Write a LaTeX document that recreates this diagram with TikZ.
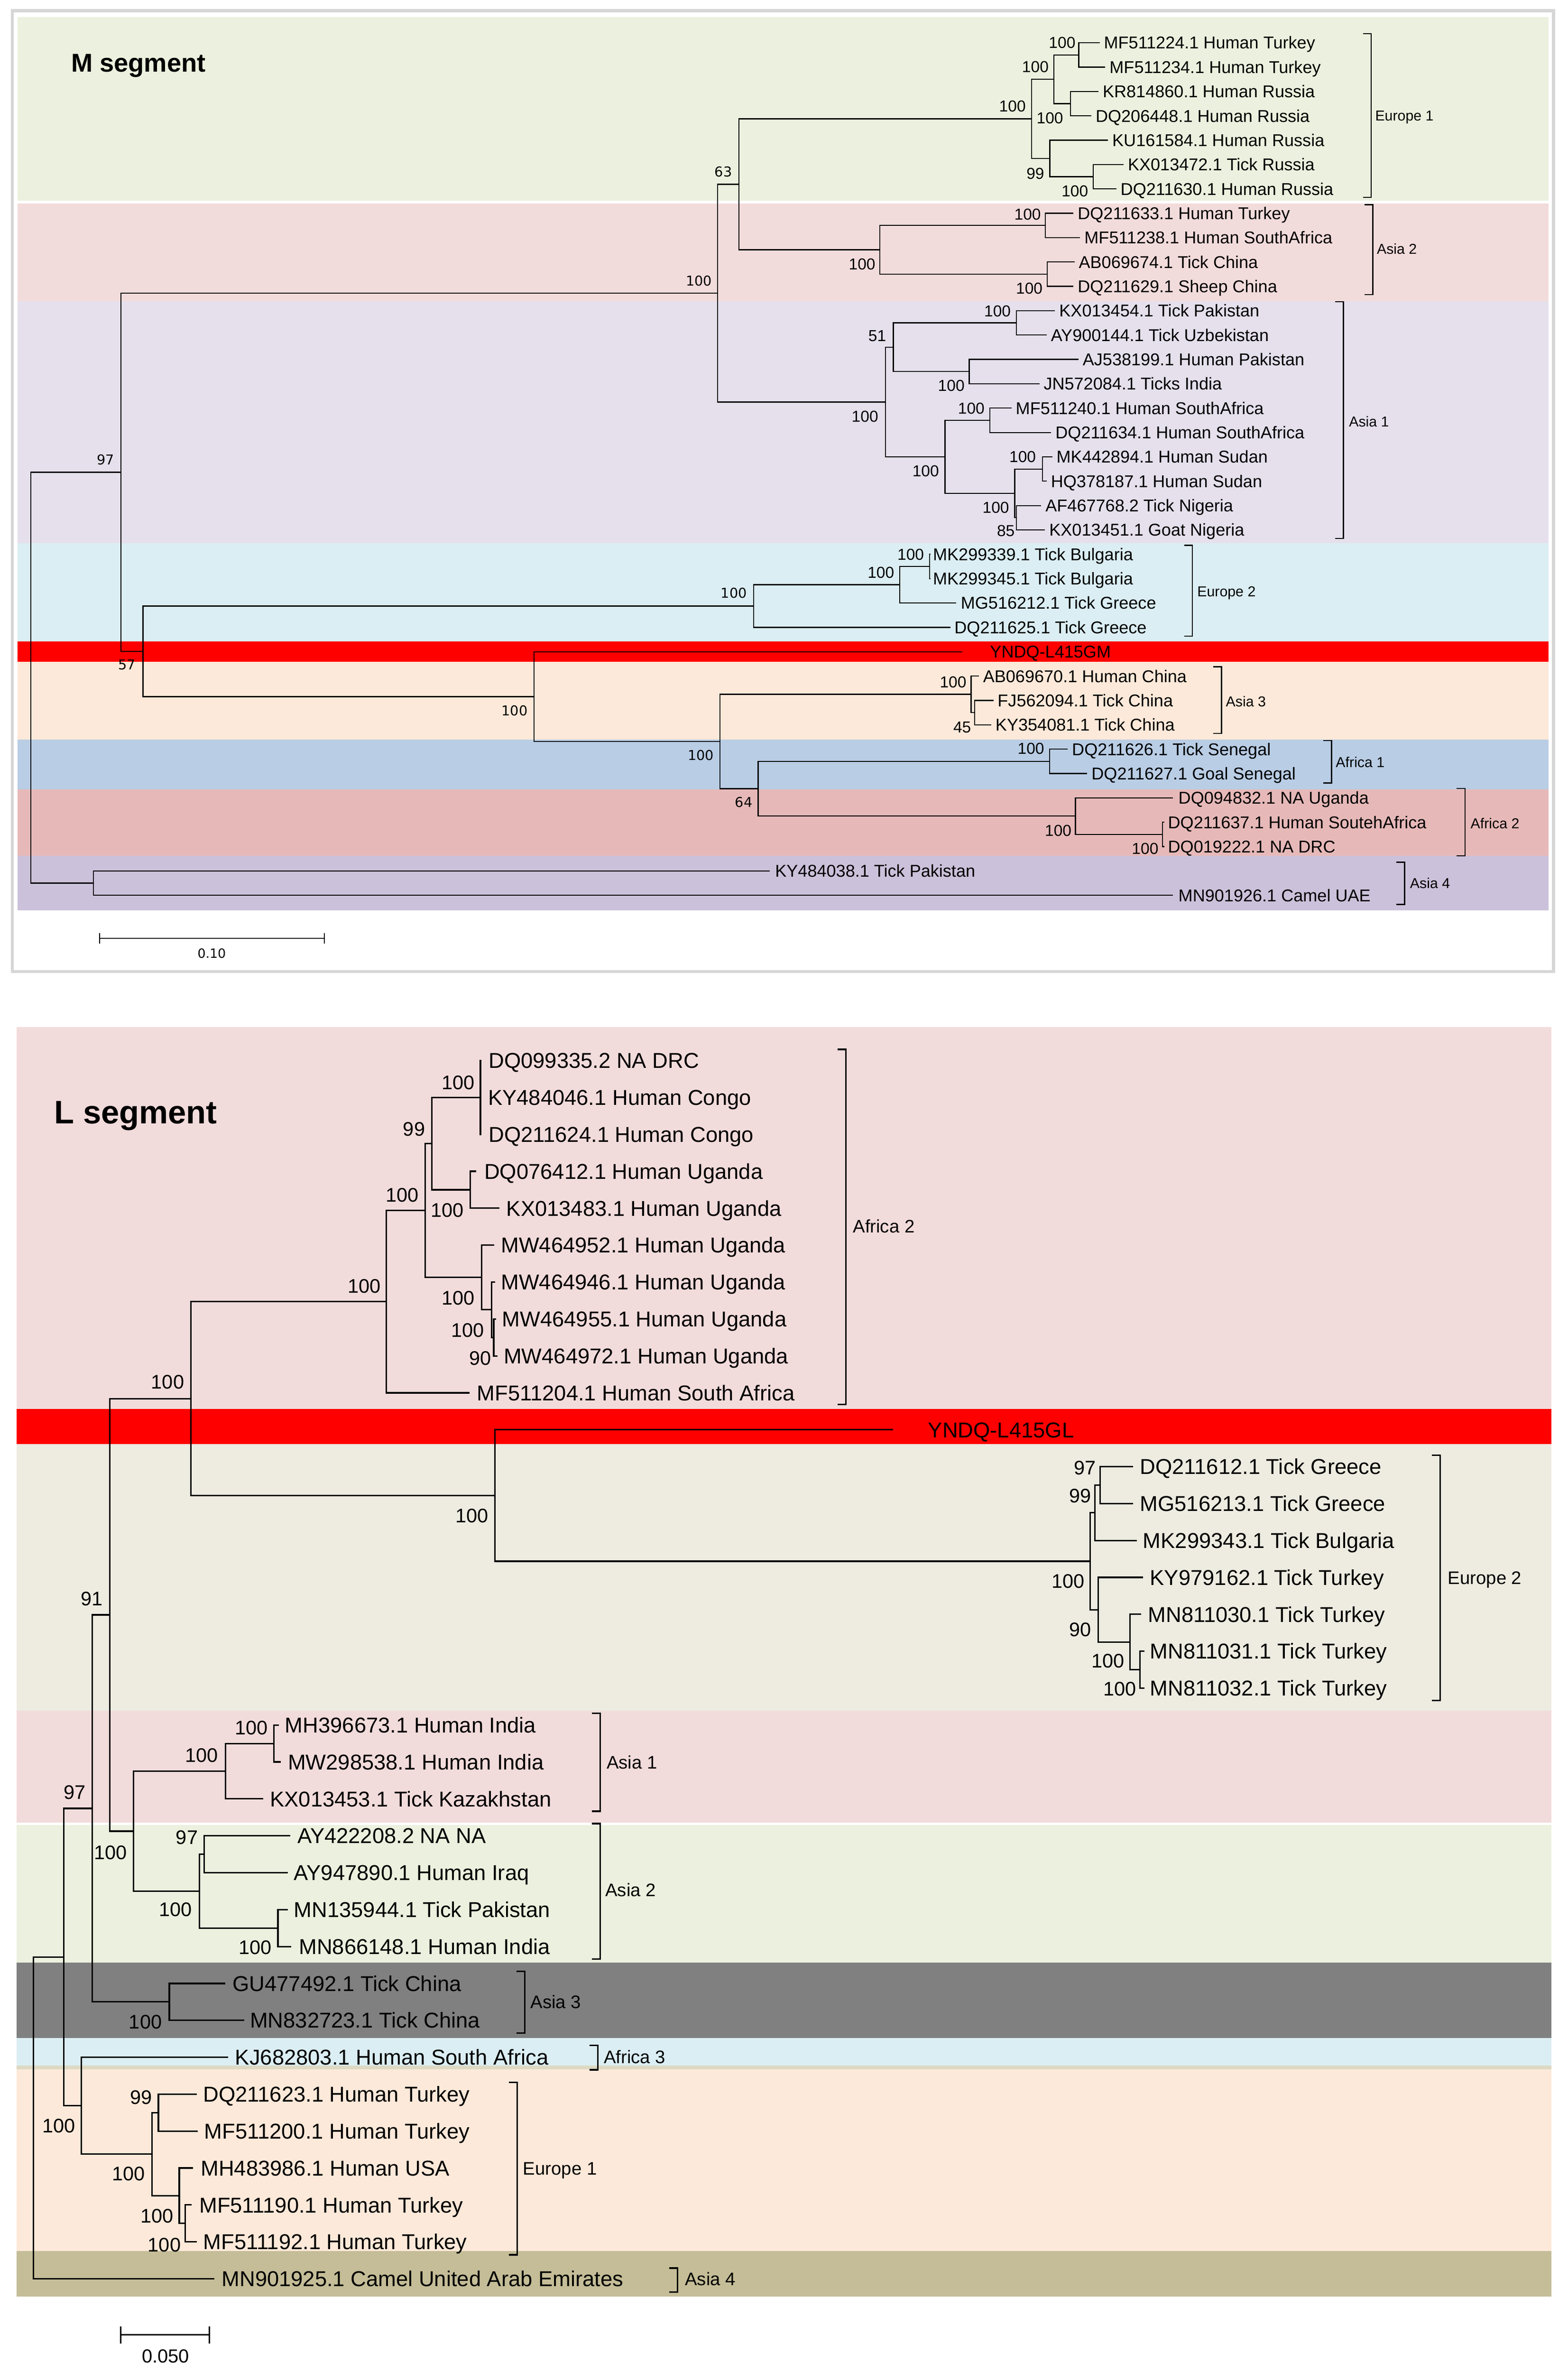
\documentclass[tikz,border=0pt]{standalone}
\usepackage{fontspec}
\setmainfont{Liberation Sans}
\newfontfamily\dejavu{DejaVu Sans}
\newcommand{\fs}[1]{\fontsize{#1}{#1}\selectfont}
\definecolor{mEuOne}{HTML}{EBF1DE}
\definecolor{mAsTwo}{HTML}{F2DCDB}
\definecolor{mAsOne}{HTML}{E5E0EC}
\definecolor{mEuTwo}{HTML}{DBEEF3}
\definecolor{mAsThree}{HTML}{FDE9D9}
\definecolor{mAfOne}{HTML}{B9CDE5}
\definecolor{mAfTwo}{HTML}{E6B9B8}
\definecolor{mAsFour}{HTML}{CCC1DA}
\definecolor{lAfTwo}{HTML}{F2DCDB}
\definecolor{lEuTwo}{HTML}{EEECE1}
\definecolor{lAsOne}{HTML}{F2DCDB}
\definecolor{lAsTwo}{HTML}{EBF1DE}
\definecolor{lAsThree}{HTML}{808080}
\definecolor{lAfThree}{HTML}{DBEEF3}
\definecolor{lSep}{HTML}{DDD9C3}
\definecolor{lEuOne}{HTML}{FDE9D9}
\definecolor{lAsFour}{HTML}{C4BD97}
\definecolor{frameGray}{HTML}{D6D6D6}
\newcommand{\mleaf}[5]{\coordinate (#1) at (#2,#3); \node[leafM] (#1t) at (#4,#3) {#5};}
\newcommand{\lleaf}[5]{\coordinate (#1) at (#2,#3); \node[leafL] (#1t) at (#4,#3) {#5};}
\begin{document}
\begin{tikzpicture}[x=1pt,y=-1pt,
  every node/.style={inner sep=0pt, outer sep=0pt},
  treeM/.style={line width=0.7pt, black},
  treeL/.style={line width=1.0pt, black},
  brM/.style={line width=0.8pt, black},
  brL/.style={line width=1.0pt, black},
  leafM/.style={anchor=base west, font=\fs{11.3}, yshift=-4.05pt},
  leafL/.style={anchor=base west, font=\fs{14.2}, yshift=-5.1pt},
  bsM/.style={font=\fs{10.5}},
  bsMv/.style={font={\dejavu\fs{9}}},
  bsL/.style={font=\fs{13}},
  cladeM/.style={anchor=base west, font=\fs{9.5}, yshift=-3.4pt},
  cladeL/.style={anchor=base west, font=\fs{12}, yshift=-4.3pt}
]
\useasboundingbox (0,0) rectangle (1035,1565.8);
\fill[white] (0,0) rectangle (1035,1565.8);

% ================= M segment bands =================
\fill[mEuOne] (11.5,11.2) rectangle (1022.4,132.6);
\fill[mAsTwo] (11.5,134.2) rectangle (1022.4,199);
\fill[mAsOne] (11.5,199) rectangle (1022.4,358.5);
\fill[mEuTwo] (11.5,358.5) rectangle (1022.4,423.3);
\fill[red] (11.5,423.3) rectangle (1022.4,436.9);
\fill[mAsThree] (11.5,436.9) rectangle (1022.4,488.1);
\fill[mAfOne] (11.5,488.1) rectangle (1022.4,521.2);
\fill[mAfTwo] (11.5,521.2) rectangle (1022.4,565);
\fill[mAsFour] (11.5,565) rectangle (1022.4,600.9);
\draw[frameGray, line width=2pt] (8.2,7) rectangle (1025.7,641.3);

\node[anchor=base west, font={\bfseries\fs{17}}] (titleM) at (47,47.5) {M segment};

% M leaves
\mleaf{m0}{726.1}{28.2}{728.9}{MF511224.1 Human Turkey}
\mleaf{m1}{729.8}{44.28}{732.6}{MF511234.1 Human Turkey}
\mleaf{m2}{725.3}{60.36}{728.1}{KR814860.1 Human Russia}
\mleaf{m3}{720.6}{76.44}{723.4}{DQ206448.1 Human Russia}
\mleaf{m4}{731.6}{92.52}{734.4}{KU161584.1 Human Russia}
\mleaf{m5}{741.9}{108.6}{744.7}{KX013472.1 Tick Russia}
\mleaf{m6}{737.1}{124.68}{739.9}{DQ211630.1 Human Russia}
\mleaf{m7}{708.8}{140.76}{711.6}{DQ211633.1 Human Turkey}
\mleaf{m8}{713.2}{156.84}{716}{MF511238.1 Human SouthAfrica}
\mleaf{m9}{709.5}{172.92}{712.3}{AB069674.1 Tick China}
\mleaf{m10}{708.8}{189.0}{711.6}{DQ211629.1 Sheep China}
\mleaf{m11}{696.6}{205.08}{699.4}{KX013454.1 Tick Pakistan}
\mleaf{m12}{691.1}{221.16}{693.9}{AY900144.1 Tick Uzbekistan}
\mleaf{m13}{712.1}{237.24}{714.9}{AJ538199.1 Human Pakistan}
\mleaf{m14}{686.3}{253.32}{689.1}{JN572084.1 Ticks India}
\mleaf{m15}{667.9}{269.4}{670.7}{MF511240.1 Human SouthAfrica}
\mleaf{m16}{694.1}{285.48}{696.9}{DQ211634.1 Human SouthAfrica}
\mleaf{m17}{694.8}{301.56}{697.6}{MK442894.1 Human Sudan}
\mleaf{m18}{691.1}{317.64}{693.9}{HQ378187.1 Human Sudan}
\mleaf{m19}{687.5}{333.72}{690.3}{AF467768.2 Tick Nigeria}
\mleaf{m20}{690.0}{349.8}{692.8}{KX013451.1 Goat Nigeria}
\mleaf{m21}{614.5}{365.88}{616}{MK299339.1 Tick Bulgaria}
\mleaf{m22}{614.5}{381.96}{616}{MK299345.1 Tick Bulgaria}
\mleaf{m23}{631.2}{398.04}{634.4}{MG516212.1 Tick Greece}
\mleaf{m24}{627.5}{414.12}{630.2}{DQ211625.1 Tick Greece}
\mleaf{m25}{635.3}{430.2}{653.7}{YNDQ-L415GM}
\mleaf{m26}{646.3}{446.28}{649.1}{AB069670.1 Human China}
\mleaf{m27}{656}{462.36}{658.7}{FJ562094.1 Tick China}
\mleaf{m28}{654.5}{478.44}{657.3}{KY354081.1 Tick China}
\mleaf{m29}{705}{494.52}{707.8}{DQ211626.1 Tick Senegal}
\mleaf{m30}{717.9}{510.6}{720.7}{DQ211627.1 Goal Senegal}
\mleaf{m31}{774.4}{526.68}{778.1}{DQ094832.1 NA Uganda}
\mleaf{m32}{768.7}{542.76}{771.2}{DQ211637.1 Human SoutehAfrica}
\mleaf{m33}{768.7}{558.84}{771.2}{DQ019222.1 NA DRC}
\mleaf{m34}{508.1}{574.92}{511.8}{KY484038.1 Tick Pakistan}
\mleaf{m35}{774.4}{591.0}{778.1}{MN901926.1 Camel UAE}

% M internal nodes
\coordinate (Me1a) at (712.3,36.24);
\coordinate (Me1b) at (706.8,68.4);
\coordinate (Me1c) at (695.8,52.32);
\coordinate (Me1d) at (721.9,116.64);
\coordinate (Me1e) at (693.2,104.58);
\coordinate (Me1) at (681.1,78.45);
\coordinate (Ma2a) at (690.3,148.8);
\coordinate (Ma2b) at (691.4,180.96);
\coordinate (Ma2) at (581,164.88);
\coordinate (Mn63) at (488,121.67);
\coordinate (Ma1a) at (671.1,213.12);
\coordinate (Ma1b) at (639.9,245.28);
\coordinate (Ma1c) at (589.8,229.2);
\coordinate (Ma1d) at (653.5,277.44);
\coordinate (Ma1e) at (688.4,309.6);
\coordinate (Ma1f) at (671.1,341.76);
\coordinate (Ma1g) at (670,325.68);
\coordinate (Ma1h) at (624,301.56);
\coordinate (Ma1) at (584.7,265.38);
\coordinate (Mn100) at (473.7,193.53);
\coordinate (Me2a) at (613.7,373.92);
\coordinate (Me2b) at (594,385.98);
\coordinate (Me2) at (497.5,400.05);
\coordinate (Ma3a) at (643.5,470.4);
\coordinate (Ma3) at (641.2,458.34);
\coordinate (Maf1) at (693.1,502.56);
\coordinate (Maf2a) at (767.5,550.8);
\coordinate (Maf2) at (710.1,538.74);
\coordinate (Mn64) at (500.6,520.65);
\coordinate (Mn475) at (475.3,489.5);
\coordinate (Mn352) at (352.6,459.85);
\coordinate (Mn57) at (94.4,429.95);
\coordinate (Mn97) at (79.9,311.74);
\coordinate (Mas4) at (61.8,582.96);
\coordinate (MrootM) at (20.4,447.35);

\draw[treeM] (Me1a) |- (m0) (Me1a) |- (m1)
  (Me1b) |- (m2) (Me1b) |- (m3)
  (Me1c) |- (Me1a) (Me1c) |- (Me1b)
  (Me1d) |- (m5) (Me1d) |- (m6)
  (Me1e) |- (m4) (Me1e) |- (Me1d)
  (Me1) |- (Me1c) (Me1) |- (Me1e)
  (Ma2a) |- (m7) (Ma2a) |- (m8)
  (Ma2b) |- (m9) (Ma2b) |- (m10)
  (Ma2) |- (Ma2a) (Ma2) |- (Ma2b)
  (Mn63) |- (Me1) (Mn63) |- (Ma2)
  (Ma1a) |- (m11) (Ma1a) |- (m12)
  (Ma1b) |- (m13) (Ma1b) |- (m14)
  (Ma1c) |- (Ma1a) (Ma1c) |- (Ma1b)
  (Ma1d) |- (m15) (Ma1d) |- (m16)
  (Ma1e) |- (m17) (Ma1e) |- (m18)
  (Ma1f) |- (m19) (Ma1f) |- (m20)
  (Ma1g) |- (Ma1e) (Ma1g) |- (Ma1f)
  (Ma1h) |- (Ma1d) (Ma1h) |- (Ma1g)
  (Ma1) |- (Ma1c) (Ma1) |- (Ma1h)
  (Mn100) |- (Mn63) (Mn100) |- (Ma1)
  (Me2a) |- (m21) (Me2a) |- (m22)
  (Me2b) |- (Me2a) (Me2b) |- (m23)
  (Me2) |- (Me2b) (Me2) |- (m24)
  (Ma3a) |- (m27) (Ma3a) |- (m28)
  (Ma3) |- (m26) (Ma3) |- (Ma3a)
  (Maf1) |- (m29) (Maf1) |- (m30)
  (Maf2a) |- (m32) (Maf2a) |- (m33)
  (Maf2) |- (m31) (Maf2) |- (Maf2a)
  (Mn64) |- (Maf1) (Mn64) |- (Maf2)
  (Mn475) |- (Ma3) (Mn475) |- (Mn64)
  (Mn352) |- (m25) (Mn352) |- (Mn475)
  (Mn57) |- (Me2) (Mn57) |- (Mn352)
  (Mn97) |- (Mn100) (Mn97) |- (Mn57)
  (Mas4) |- (m34) (Mas4) |- (m35)
  (MrootM) |- (Mn97) (MrootM) |- (Mas4);

% M bootstrap values
\node[bsM] (bm1) at (701.3,28.2) {100};
\node[bsM] (bm2) at (683.6,44.2) {100};
\node[bsM] (bm3) at (668.5,70.1) {100};
\node[bsM] (bm4) at (693.2,78.1) {100};
\node[bsM] (bm5) at (683.6,114.7) {99};
\node[bsM] (bm6) at (709.7,126.2) {100};
\node[bsM] (bm7) at (678.5,141.4) {100};
\node[bsM] (bm8) at (569.2,174.3) {100};
\node[bsM] (bm9) at (679.6,190.3) {100};
\node[bsM] (bm10) at (658.6,205.5) {100};
\node[bsM] (bm11) at (579.2,221.7) {51};
\node[bsM] (bm12) at (628.1,254.6) {100};
\node[bsM] (bm13) at (571.1,274.9) {100};
\node[bsM] (bm14) at (641.3,269.7) {100};
\node[bsM] (bm15) at (611.2,311.1) {100};
\node[bsM] (bm16) at (675.2,301.7) {100};
\node[bsM] (bm17) at (657.5,335.2) {100};
\node[bsM] (bm18) at (664.1,350.5) {85};
\node[bsM] (bm19) at (601.3,366) {100};
\node[bsM] (bm20) at (581.6,377.9) {100};
\node[bsM] (bm21) at (629.3,450.3) {100};
\node[bsM] (bm22) at (635.3,480) {45};
\node[bsM] (bm23) at (680.7,494.3) {100};
\node[bsM] (bm24) at (698.7,548.2) {100};
\node[bsM] (bm25) at (756.1,560.2) {100};
\node[bsMv] (bv1) at (477.6,113.5) {63};
\node[bsMv] (bv2) at (461.5,185.4) {100};
\node[bsMv] (bv3) at (69.7,303.5) {97};
\node[bsMv] (bv4) at (484.5,391.4) {100};
\node[bsMv] (bv5) at (83.9,438.9) {57};
\node[bsMv] (bv6) at (339.8,469.1) {100};
\node[bsMv] (bv7) at (462.8,498.4) {100};
\node[bsMv] (bv8) at (491.1,529.7) {64};

% M brackets and clade labels
\draw[brM] (899.9,22.3) -- (905.4,22.3) -- (905.4,130.3) -- (899.9,130.3);
\node[cladeM] (kM1) at (908,76.3) {Europe 1};
\draw[brM] (901,135.1) -- (906.5,135.1) -- (906.5,194.5) -- (901,194.5);
\node[cladeM] (kM2) at (909.1,164.2) {Asia 2};
\draw[brM] (881.6,199.2) -- (887.1,199.2) -- (887.1,355.5) -- (881.6,355.5);
\node[cladeM] (kM3) at (890.7,278.2) {Asia 1};
\draw[brM] (781.8,360) -- (787.3,360) -- (787.3,420) -- (781.8,420);
\node[cladeM] (kM4) at (790.5,390.3) {Europe 2};
\draw[brM] (801.1,440.2) -- (806.6,440.2) -- (806.6,484.2) -- (801.1,484.2);
\node[cladeM] (kM5) at (809.4,463) {Asia 3};
\draw[brM] (873.6,488.9) -- (879.1,488.9) -- (879.1,516.8) -- (873.6,516.8);
\node[cladeM] (kM6) at (882,503) {Africa 1};
\draw[brM] (961.8,520.4) -- (967.3,520.4) -- (967.3,565) -- (961.8,565);
\node[cladeM] (kM7) at (971,543.5) {Africa 2};
\draw[brM] (921.9,569.1) -- (927.4,569.1) -- (927.4,597.1) -- (921.9,597.1);
\node[cladeM] (kM8) at (931,583) {Asia 4};

% M scale bar
\coordinate (sbMa) at (65.8,619.4);
\coordinate (sbMb) at (214.2,619.4);
\draw[treeM] (sbMa) -- (sbMb);
\draw[treeM] ([yshift=3.5pt]sbMa) -- ([yshift=-3.5pt]sbMa);
\draw[treeM] ([yshift=3.5pt]sbMb) -- ([yshift=-3.5pt]sbMb);
\node[font={\dejavu\fs{8.4}}] (sbMt) at (139.8,629.5) {0.10};

% ================= L segment bands =================
\fill[lAfTwo] (11,677.9) rectangle (1024.3,930.2);
\fill[red] (11,930.2) rectangle (1024.3,953.2);
\fill[lEuTwo] (11,953.2) rectangle (1024.3,1129.3);
\fill[lAsOne] (11,1129.3) rectangle (1024.3,1203.2);
\fill[lAsTwo] (11,1204.8) rectangle (1024.3,1295.5);
\fill[lAsThree] (11,1295.5) rectangle (1024.3,1345.3);
\fill[lAfThree] (11,1345.3) rectangle (1024.3,1363.5);
\fill[lSep] (11,1363.5) rectangle (1024.3,1366);
\fill[lEuOne] (11,1366) rectangle (1024.3,1486);
\fill[lAsFour] (11,1486) rectangle (1024.3,1516.1);

\node[anchor=base west, font={\bfseries\fs{21.5}}] (titleL) at (35.8,741.6) {L segment};

% L leaves
\lleaf{l0}{318.0}{700.1}{322.7}{DQ099335.2 NA DRC}
\lleaf{l1}{318.0}{724.47}{322.3}{KY484046.1 Human Congo}
\lleaf{l2}{318.0}{748.83}{322.7}{DQ211624.1 Human Congo}
\lleaf{l3}{314.5}{773.2}{319.8}{DQ076412.1 Human Uganda}
\lleaf{l4}{329.7}{797.57}{334.4}{KX013483.1 Human Uganda}
\lleaf{l5}{326.4}{821.94}{330.8}{MW464952.1 Human Uganda}
\lleaf{l6}{327.0}{846.3}{330.8}{MW464946.1 Human Uganda}
\lleaf{l7}{327.5}{870.67}{331.5}{MW464955.1 Human Uganda}
\lleaf{l8}{328.5}{895.04}{332.6}{MW464972.1 Human Uganda}
\lleaf{l9}{310.0}{919.4}{315.0}{MF511204.1 Human South Africa}
\lleaf{l10}{589.6}{943.77}{612.8}{YNDQ-L415GL}
\lleaf{l11}{748.1}{968.14}{752.7}{DQ211612.1 Tick Greece}
\lleaf{l12}{748.1}{992.5}{752.7}{MG516213.1 Tick Greece}
\lleaf{l13}{750.7}{1016.87}{754.7}{MK299343.1 Tick Bulgaria}
\lleaf{l14}{754.7}{1041.24}{759.3}{KY979162.1 Tick Turkey}
\lleaf{l15}{753.5}{1065.61}{758.0}{MN811030.1 Tick Turkey}
\lleaf{l16}{755.5}{1089.97}{759.3}{MN811031.1 Tick Turkey}
\lleaf{l17}{755.5}{1114.34}{759.3}{MN811032.1 Tick Turkey}
\lleaf{l18}{184.2}{1138.71}{188.2}{MH396673.1 Human India}
\lleaf{l19}{185.5}{1163.07}{190.1}{MW298538.1 Human India}
\lleaf{l20}{173.7}{1187.44}{178.3}{KX013453.1 Tick Kazakhstan}
\lleaf{l21}{191.8}{1211.81}{196.4}{AY422208.2 NA NA}
\lleaf{l22}{190.1}{1236.17}{194.1}{AY947890.1 Human Iraq}
\lleaf{l23}{190.1}{1260.54}{194.1}{MN135944.1 Tick Pakistan}
\lleaf{l24}{192.4}{1284.91}{197.4}{MN866148.1 Human India}
\lleaf{l25}{148.7}{1309.28}{153.6}{GU477492.1 Tick China}
\lleaf{l26}{161.2}{1333.64}{165.1}{MN832723.1 Tick China}
\lleaf{l27}{150.7}{1358.01}{155.3}{KJ682803.1 Human South Africa}
\lleaf{l28}{129.9}{1382.38}{134.2}{DQ211623.1 Human Turkey}
\lleaf{l29}{130.5}{1406.74}{134.9}{MF511200.1 Human Turkey}
\lleaf{l30}{127.6}{1431.11}{132.6}{MH483986.1 Human USA}
\lleaf{l31}{126.6}{1455.48}{131.6}{MF511190.1 Human Turkey}
\lleaf{l32}{129.9}{1479.84}{134.2}{MF511192.1 Human Turkey}
\lleaf{l33}{141.4}{1504.21}{146.4}{MN901925.1 Camel United Arab Emirates}

% L internal nodes
\coordinate (Lc1) at (317.2,724.47);
\coordinate (Lc2) at (310.6,785.38);
\coordinate (Lc3) at (285.1,754.93);
\coordinate (Lg) at (326.0,882.86);
\coordinate (Lf) at (324.5,864.58);
\coordinate (Le) at (318.0,843.26);
\coordinate (Lc4) at (280.7,799.1);
\coordinate (Lc5) at (255.1,859.25);
\coordinate (Le2a) at (726.3,980.32);
\coordinate (Le2b) at (723.0,998.6);
\coordinate (Le2d) at (752.7,1102.16);
\coordinate (Le2c) at (746.1,1083.89);
\coordinate (Le2e) at (725.0,1062.57);
\coordinate (Le2) at (719.7,1030.58);
\coordinate (Ly1) at (326.8,987.18);
\coordinate (Lc6) at (126.0,923.22);
\coordinate (La1k) at (180.9,1150.89);
\coordinate (La1j) at (149.0,1169.17);
\coordinate (La2m) at (134.9,1223.99);
\coordinate (La2n) at (183.5,1272.73);
\coordinate (La2l) at (131.6,1248.36);
\coordinate (Lni) at (88.2,1208.77);
\coordinate (Lnh) at (72.6,1066.0);
\coordinate (La3q) at (111.8,1321.46);
\coordinate (Lno) at (60.9,1193.73);
\coordinate (LeT) at (104.6,1394.56);
\coordinate (LeV) at (122.4,1467.66);
\coordinate (LeU) at (118.4,1449.39);
\coordinate (LeS) at (100.3,1421.98);
\coordinate (Lnr) at (53.6,1390.0);
\coordinate (Lnp) at (42.1,1291.87);
\coordinate (LrootL) at (22.0,1398.04);

\draw[treeL] (Lc1) |- (l0) (Lc1) |- (l1) (Lc1) |- (l2)
  (Lc2) |- (l3) (Lc2) |- (l4)
  (Lc3) |- (Lc1) (Lc3) |- (Lc2)
  (Lg) |- (l7) (Lg) |- (l8)
  (Lf) |- (l6) (Lf) |- (Lg)
  (Le) |- (l5) (Le) |- (Lf)
  (Lc4) |- (Lc3) (Lc4) |- (Le)
  (Lc5) |- (Lc4) (Lc5) |- (l9)
  (Le2a) |- (l11) (Le2a) |- (l12)
  (Le2b) |- (Le2a) (Le2b) |- (l13)
  (Le2d) |- (l16) (Le2d) |- (l17)
  (Le2c) |- (l15) (Le2c) |- (Le2d)
  (Le2e) |- (l14) (Le2e) |- (Le2c)
  (Le2) |- (Le2b) (Le2) |- (Le2e)
  (Ly1) |- (l10) (Ly1) |- (Le2)
  (Lc6) |- (Lc5) (Lc6) |- (Ly1)
  (La1k) |- (l18) (La1k) |- (l19)
  (La1j) |- (La1k) (La1j) |- (l20)
  (La2m) |- (l21) (La2m) |- (l22)
  (La2n) |- (l23) (La2n) |- (l24)
  (La2l) |- (La2m) (La2l) |- (La2n)
  (Lni) |- (La1j) (Lni) |- (La2l)
  (Lnh) |- (Lc6) (Lnh) |- (Lni)
  (La3q) |- (l25) (La3q) |- (l26)
  (Lno) |- (Lnh) (Lno) |- (La3q)
  (LeT) |- (l28) (LeT) |- (l29)
  (LeV) |- (l31) (LeV) |- (l32)
  (LeU) |- (l30) (LeU) |- (LeV)
  (LeS) |- (LeT) (LeS) |- (LeU)
  (Lnr) |- (l27) (Lnr) |- (LeS)
  (Lnp) |- (Lno) (Lnp) |- (Lnr)
  (LrootL) |- (Lnp) (LrootL) |- (l33);

% L bootstrap values
\node[bsL] (bl1) at (302.6,714.6) {100};
\node[bsL] (bl2) at (273.4,745.3) {99};
\node[bsL] (bl3) at (265.7,788.9) {100};
\node[bsL] (bl4) at (295.3,798.8) {100};
\node[bsL] (bl5) at (240.5,849) {100};
\node[bsL] (bl6) at (302.6,856.8) {100};
\node[bsL] (bl7) at (308.8,878) {100};
\node[bsL] (bl8) at (317.2,896.6) {90};
\node[bsL] (bl9) at (110.7,912.3) {100};
\node[bsL] (bl10) at (311.7,1000.5) {100};
\node[bsL] (bl11) at (716.4,969) {97};
\node[bsL] (bl12) at (713.1,987.5) {99};
\node[bsL] (bl13) at (705.2,1043.7) {100};
\node[bsL] (bl14) at (713.1,1075.9) {90};
\node[bsL] (bl15) at (731.6,1096.4) {100};
\node[bsL] (bl16) at (739.5,1115) {100};
\node[bsL] (bl17) at (60.7,1055.3) {91};
\node[bsL] (bl18) at (166.1,1140.5) {100};
\node[bsL] (bl19) at (133.2,1158.6) {100};
\node[bsL] (bl20) at (49.3,1183.3) {97};
\node[bsL] (bl21) at (123.4,1212.9) {97};
\node[bsL] (bl22) at (73,1222.8) {100};
\node[bsL] (bl23) at (115.8,1260.6) {100};
\node[bsL] (bl24) at (168.4,1285.6) {100};
\node[bsL] (bl25) at (96,1334.6) {100};
\node[bsL] (bl26) at (93.1,1384.5) {99};
\node[bsL] (bl27) at (38.8,1403.4) {100};
\node[bsL] (bl28) at (84.9,1434.9) {100};
\node[bsL] (bl29) at (103.6,1462.9) {100};
\node[bsL] (bl30) at (108.5,1481.8) {100};

% L brackets and clade labels
\draw[brL] (553,692.7) -- (558.5,692.7) -- (558.5,927.1) -- (553,927.1);
\node[cladeL] (kL1) at (563.2,809.5) {Africa 2};
\draw[brL] (945.3,960.5) -- (950.8,960.5) -- (950.8,1122.5) -- (945.3,1122.5);
\node[cladeL] (kL2) at (956,1041.6) {Europe 2};
\draw[brL] (390.9,1131) -- (396.4,1131) -- (396.4,1195.6) -- (390.9,1195.6);
\node[cladeL] (kL3) at (400.6,1163.2) {Asia 1};
\draw[brL] (390.9,1203.8) -- (396.4,1203.8) -- (396.4,1293.2) -- (390.9,1293.2);
\node[cladeL] (kL4) at (399.7,1247.4) {Asia 2};
\draw[brL] (340.9,1301.4) -- (346.4,1301.4) -- (346.4,1342) -- (340.9,1342);
\node[cladeL] (kL5) at (350.3,1321.4) {Asia 3};
\draw[brL] (389.2,1350.2) -- (394.7,1350.2) -- (394.7,1366.3) -- (389.2,1366.3);
\node[cladeL] (kL6) at (398.7,1357.9) {Africa 3};
\draw[brL] (335.9,1374.7) -- (341.4,1374.7) -- (341.4,1488.4) -- (335.9,1488.4);
\node[cladeL] (kL7) at (345.4,1431.4) {Europe 1};
\draw[brL] (441.9,1497.2) -- (447.4,1497.2) -- (447.4,1513) -- (441.9,1513);
\node[cladeL] (kL8) at (452.3,1504.2) {Asia 4};

% L scale bar
\coordinate (sbLa) at (79.6,1541.3);
\coordinate (sbLb) at (138.2,1541.3);
\draw[treeL] (sbLa) -- (sbLb);
\draw[treeL] ([yshift=5.6pt]sbLa) -- ([yshift=-5.6pt]sbLa);
\draw[treeL] ([yshift=5.6pt]sbLb) -- ([yshift=-5.6pt]sbLb);
\node[font=\fs{12.5}] (sbLt) at (109.3,1555.3) {0.050};
\end{tikzpicture}
\end{document}
